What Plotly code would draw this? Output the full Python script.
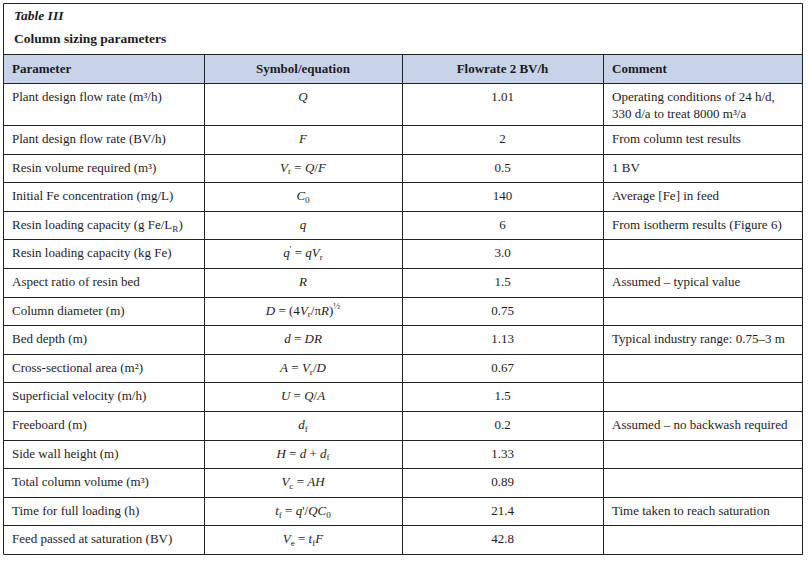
"""Table III - Column sizing parameters, drawn as text on hidden axes with ruled lines."""

import plotly.graph_objects as go

W, H = 808, 564

# ---- 数据 ----
header = ["Parameter", "Symbol/equation", "Flowrate 2 BV/h", "Comment"]

parameters = [
    "Plant design flow rate (m³/h)",
    "Plant design flow rate (BV/h)",
    "Resin volume required (m³)",
    "Initial Fe concentration (mg/L)",
    "Resin loading capacity (g Fe/L<sub>R</sub>)",
    "Resin loading capacity (kg Fe)",
    "Aspect ratio of resin bed",
    "Column diameter (m)",
    "Bed depth (m)",
    "Cross-sectional area (m²)",
    "Superficial velocity (m/h)",
    "Freeboard (m)",
    "Side wall height (m)",
    "Total column volume (m³)",
    "Time for full loading (h)",
    "Feed passed at saturation (BV)",
]

symbols = [
    "<i>Q</i>",
    "<i>F</i>",
    "<i>V</i><sub>r</sub> = <i>Q</i>/<i>F</i>",
    "<i>C</i><sub>0</sub>",
    "<i>q</i>",
    "<i>q</i><sup>'</sup> = <i>qV</i><sub>r</sub>",
    "<i>R</i>",
    "<i>D</i> = (4<i>V</i><sub>r</sub>/π<i>R</i>)<sup>½</sup>",
    "<i>d</i> = <i>DR</i>",
    "<i>A</i> = <i>V</i><sub>r</sub>/<i>D</i>",
    "<i>U</i> = <i>Q</i>/<i>A</i>",
    "<i>d</i><sub>f</sub>",
    "<i>H</i> = <i>d</i> + <i>d</i><sub>f</sub>",
    "<i>V</i><sub>c</sub> = <i>AH</i>",
    "<i>t</i><sub>f</sub> = <i>q</i>'/<i>QC</i><sub>0</sub>",
    "<i>V</i><sub>e</sub> = <i>t</i><sub>f</sub><i>F</i>",
]

flowrate_2bvh = [1.01, 2, 0.5, 140, 6, 3.0, 1.5, 0.75, 1.13, 0.67, 1.5, 0.2, 1.33, 0.89, 21.4, 42.8]

comments = [
    "Operating conditions of 24 h/d,<br>330 d/a to treat 8000 m³/a",
    "From column test results",
    "1 BV",
    "Average [Fe] in feed",
    "From isotherm results (Figure 6)",
    "",
    "Assumed – typical value",
    "",
    "Typical industry range: 0.75–3 m",
    "",
    "",
    "Assumed – no backwash required",
    "",
    "",
    "Time taken to reach saturation",
    "",
]

# ---- 版式 ----
FONT = "Liberation Serif"
INK = "#1f1c1d"
LINE = "#222222"
HEAD_FILL = "#c6d3e9"
FS = 13

col_edges = [3, 204, 402, 603, 802]
col_align = ["left", "center", "center", "left"]
PAD = 9
TOP = 3
HEAD_TOP, HEAD_H = 54, 29
ROW_H = 28.6          # single-line row
EXTRA_LINE = 13.4     # extra height for each additional text line
LINE_STEP = 17

columns = [parameters, symbols, [str(v) for v in flowrate_2bvh], comments]
n_lines = [max(str(col[i]).count("<br>") + 1 for col in columns) for i in range(len(parameters))]

row_tops = []
y = HEAD_TOP + HEAD_H
for n in n_lines:
    row_tops.append(y)
    y += ROW_H + (n - 1) * EXTRA_LINE
row_edges = [HEAD_TOP, HEAD_TOP + HEAD_H] + row_tops[1:] + [y]
BOTTOM = y


def crisp(v):
    # 线条落在像素中心，避免发虚
    return round(v) + 0.5


fig = go.Figure()

# 表头底色
fig.add_shape(
    type="rect", x0=col_edges[0], x1=col_edges[-1], y0=HEAD_TOP, y1=HEAD_TOP + HEAD_H,
    fillcolor=HEAD_FILL, line_width=0, layer="below",
)

# 横线
for e in [TOP] + row_edges:
    fig.add_shape(type="line", x0=crisp(col_edges[0]), x1=crisp(col_edges[-1]),
                  y0=crisp(e), y1=crisp(e), line=dict(color=LINE, width=1))
# 竖线
for i, e in enumerate(col_edges):
    y0 = TOP if i in (0, len(col_edges) - 1) else HEAD_TOP
    fig.add_shape(type="line", x0=crisp(e), x1=crisp(e), y0=crisp(y0), y1=crisp(BOTTOM),
                  line=dict(color=LINE, width=1))


def text_x(ci):
    if col_align[ci] == "left":
        return col_edges[ci] + PAD
    return (col_edges[ci] + col_edges[ci + 1]) / 2


# 表头文字
for ci, h in enumerate(header):
    fig.add_trace(go.Scatter(
        x=[text_x(ci)], y=[HEAD_TOP + HEAD_H / 2 + 1],
        mode="text", text=[f"<b>{h}</b>"],
        textposition="middle right" if col_align[ci] == "left" else "middle center",
        textfont=dict(family=FONT, size=FS, color=INK),
        hoverinfo="skip", showlegend=False,
    ))

# 单元格文字
for ci, col in enumerate(columns):
    ys = []
    for ri, val in enumerate(col):
        k = str(val).count("<br>") + 1
        ys.append(row_tops[ri] + ROW_H / 2 + 0.5 + (k - 1) * LINE_STEP / 2)
    fig.add_trace(go.Scatter(
        x=[text_x(ci)] * len(col), y=ys,
        mode="text", text=[str(v) for v in col],
        textposition="middle right" if col_align[ci] == "left" else "middle center",
        textfont=dict(family=FONT, size=FS, color=INK),
        hoverinfo="skip", showlegend=False,
    ))

# 标题
fig.add_annotation(
    text="<b><i>Table III</i></b>", x=12, y=15, xanchor="left", yanchor="middle",
    showarrow=False, font=dict(family=FONT, size=13.5, color=INK),
)
fig.add_annotation(
    text="<b>Column sizing parameters</b>", x=12, y=38.5, xanchor="left", yanchor="middle",
    showarrow=False, font=dict(family=FONT, size=13.5, color=INK),
)

fig.update_xaxes(range=[0, W], visible=False, fixedrange=True)
fig.update_yaxes(range=[H, 0], visible=False, fixedrange=True)
fig.update_layout(
    width=W,
    height=H,
    margin=dict(l=0, r=0, t=0, b=0),
    paper_bgcolor="white",
    plot_bgcolor="white",
)

fig.write_html(
    "out.html",
    config={"displayModeBar": False},
    post_script="document.body.style.margin='0';",
)
